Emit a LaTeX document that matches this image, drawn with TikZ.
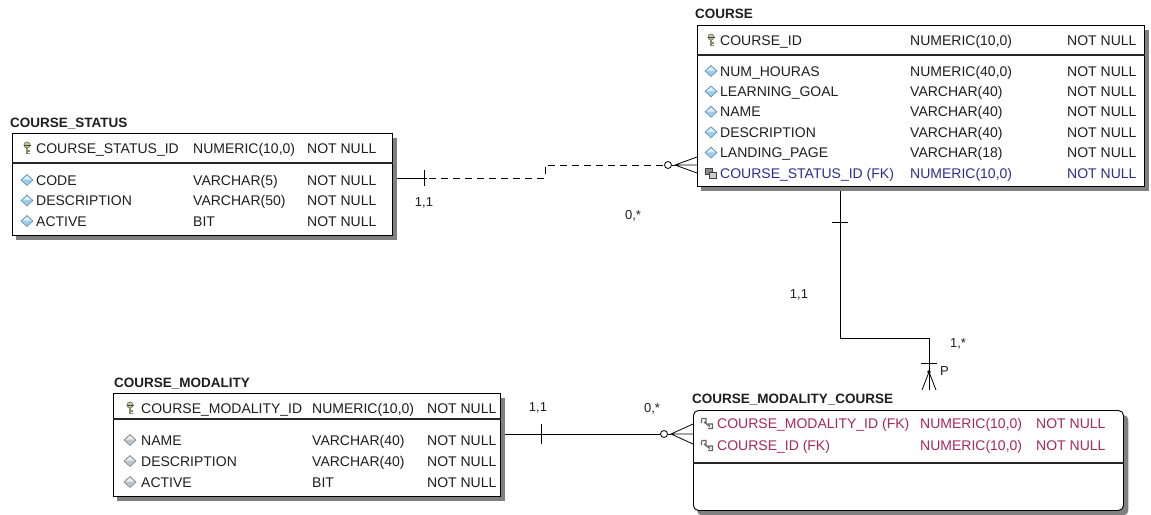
\documentclass[tikz,border=0pt]{standalone}
\usepackage{fontspec}
\setmainfont{Liberation Sans}
\usetikzlibrary{backgrounds}
\definecolor{txtc}{HTML}{1E1E1E}
\definecolor{fkblue}{HTML}{2E2E8F}
\definecolor{fkred}{HTML}{A8285A}
\definecolor{dia}{HTML}{9DCBEA}
\definecolor{diab}{HTML}{4F86B5}
\definecolor{diag}{HTML}{BCC4CC}
\definecolor{diagb}{HTML}{6F7A84}
\definecolor{keyc}{HTML}{8E8A66}
\definecolor{shad}{HTML}{808080}
\begin{document}
\begin{tikzpicture}[x=1pt,y=-1pt,
  tbl/.style={draw=black, line width=0.9pt, fill=white, inner sep=0pt, anchor=north west},
  shd/.style={fill=shad},
  ttl/.style={font=\fontsize{13.5}{15}\selectfont\bfseries, text=txtc, anchor=base west, inner sep=0pt},
  fld/.style={font=\fontsize{14}{16}\selectfont, text=txtc, anchor=base west, inner sep=0pt},
  lbl/.style={font=\fontsize{13}{15}\selectfont, text=txtc, anchor=center, inner sep=0pt},
  rel/.style={line width=0.8pt, draw=black},
  sep/.style={line width=1.1pt, draw=black!85},
  attr/.pic={\filldraw[fill=dia, draw=diab, line width=0.5pt] (0,-5.5)--(6,0)--(0,5.5)--(-6,0)--cycle;
             \fill[white,opacity=0.7] (0,-4.2)--(4.2,-0.3)--(-4.2,-0.3)--cycle;},
  attrg/.pic={\filldraw[fill=diag, draw=diagb, line width=0.5pt] (0,-5.5)--(6,0)--(0,5.5)--(-6,0)--cycle;
             \fill[white,opacity=0.7] (0,-4.2)--(4.2,-0.3)--(-4.2,-0.3)--cycle;},
  pk/.pic={\filldraw[fill=keyc!50, draw=keyc, line width=0.9pt] (0,-3) circle (3);
           \draw[keyc, line width=1.6pt] (0,0) -- (0,6) (0,3) -- (3,3) (0,5.5) -- (3,5.5);
           \draw[keyc!50!black, line width=0.7pt] (-3.5,-3) -- (3.5,-3);},
  fk/.pic={\filldraw[fill=black!45, draw=black!75, line width=0.5pt] (-5.5,-4.5) rectangle (1,1.5);
           \filldraw[fill=black!20, draw=black!75, line width=0.5pt] (-1.5,-0.5) rectangle (5.5,5.5);},
  fkr/.pic={\draw[black!60, line width=1.4pt] (-5.5,-4.5) -- (-1,-4.5) -- (-1,0) (-5.5,0) -- (-5.5,-4.5)
             (1,1) -- (5.5,1) -- (5.5,5.5) -- (1,5.5) (-3,-1) -- (3,3.5);}
]
\useasboundingbox (0,0) rectangle (1151,514);

% ---------------- tables ----------------
\node[tbl, minimum width=380pt, minimum height=102pt] (cs) at (12,133) {};
\node[tbl, minimum width=447pt, minimum height=161pt] (course) at (697,25) {};
\node[tbl, minimum width=387pt, minimum height=103pt] (cm) at (113,393) {};
\node[tbl, rounded corners=5pt, minimum width=430pt, minimum height=100pt] (cmc) at (693,410) {};

\begin{scope}[on background layer]
  \fill[shd] ([xshift=4pt,yshift=-5pt]cs.north west) rectangle ([xshift=4.5pt,yshift=-4.5pt]cs.south east);
  \fill[shd] ([xshift=4pt,yshift=-5pt]course.north west) rectangle ([xshift=4.5pt,yshift=-4.5pt]course.south east);
  \fill[shd] ([xshift=4pt,yshift=-5pt]cm.north west) rectangle ([xshift=4.5pt,yshift=-4.5pt]cm.south east);
  \fill[shd, rounded corners=5pt] ([xshift=4pt,yshift=-5pt]cmc.north west) rectangle ([xshift=4.5pt,yshift=-4.5pt]cmc.south east);
\end{scope}

\draw[sep] (cs.north west |- 0,163) -- (cs.north east |- 0,163);
\draw[sep] (course.north west |- 0,55) -- (course.north east |- 0,55);
\draw[sep] (cm.north west |- 0,419) -- (cm.north east |- 0,419);
\draw[sep] (cmc.north west |- 0,463) -- (cmc.north east |- 0,463);

% ---------------- COURSE_STATUS ----------------
\node[ttl] (cst) at (10,127) {COURSE\_STATUS};
\pic at (27,148) {pk};
\node[fld] (cs1a) at (36,153) {COURSE\_STATUS\_ID};
\node[fld] (cs1b) at (193,153) {NUMERIC(10,0)};
\node[fld] (cs1c) at (307,153) {NOT NULL};
\pic at (27,180) {attr};
\node[fld] (cs2a) at (36,185) {CODE};
\node[fld] (cs2b) at (193,185) {VARCHAR(5)};
\node[fld] (cs2c) at (307,185) {NOT NULL};
\pic at (27,200.5) {attr};
\node[fld] (cs3a) at (36,205.5) {DESCRIPTION};
\node[fld] (cs3b) at (193,205.5) {VARCHAR(50)};
\node[fld] (cs3c) at (307,205.5) {NOT NULL};
\pic at (27,221) {attr};
\node[fld] (cs4a) at (36,226) {ACTIVE};
\node[fld] (cs4b) at (193,226) {BIT};
\node[fld] (cs4c) at (307,226) {NOT NULL};

% ---------------- COURSE ----------------
\node[ttl] (cot) at (695,19) {COURSE};
\pic at (711,40) {pk};
\node[fld] (co1a) at (720,45) {COURSE\_ID};
\node[fld] (co1b) at (910,45) {NUMERIC(10,0)};
\node[fld] (co1c) at (1067,45) {NOT NULL};
\pic at (711,71) {attr};
\node[fld] (co2a) at (720,76) {NUM\_HOURAS};
\node[fld] (co2b) at (910,76) {NUMERIC(40,0)};
\node[fld] (co2c) at (1067,76) {NOT NULL};
\pic at (711,91.4) {attr};
\node[fld] (co3a) at (720,96.4) {LEARNING\_GOAL};
\node[fld] (co3b) at (910,96.4) {VARCHAR(40)};
\node[fld] (co3c) at (1067,96.4) {NOT NULL};
\pic at (711,111.8) {attr};
\node[fld] (co4a) at (720,116.8) {NAME};
\node[fld] (co4b) at (910,116.8) {VARCHAR(40)};
\node[fld] (co4c) at (1067,116.8) {NOT NULL};
\pic at (711,132.2) {attr};
\node[fld] (co5a) at (720,137.2) {DESCRIPTION};
\node[fld] (co5b) at (910,137.2) {VARCHAR(40)};
\node[fld] (co5c) at (1067,137.2) {NOT NULL};
\pic at (711,152.6) {attr};
\node[fld] (co6a) at (720,157.6) {LANDING\_PAGE};
\node[fld] (co6b) at (910,157.6) {VARCHAR(18)};
\node[fld] (co6c) at (1067,157.6) {NOT NULL};
\pic at (711,173) {fk};
\node[fld, text=fkblue] (co7a) at (720,178) {COURSE\_STATUS\_ID (FK)};
\node[fld, text=fkblue] (co7b) at (910,178) {NUMERIC(10,0)};
\node[fld, text=fkblue] (co7c) at (1067,178) {NOT NULL};

% ---------------- COURSE_MODALITY ----------------
\node[ttl] (cmt) at (114,387) {COURSE\_MODALITY};
\pic at (130,408) {pk};
\node[fld] (cm1a) at (141,413) {COURSE\_MODALITY\_ID};
\node[fld] (cm1b) at (312,413) {NUMERIC(10,0)};
\node[fld] (cm1c) at (427,413) {NOT NULL};
\pic at (130,440) {attrg};
\node[fld] (cm2a) at (141,445) {NAME};
\node[fld] (cm2b) at (312,445) {VARCHAR(40)};
\node[fld] (cm2c) at (427,445) {NOT NULL};
\pic at (130,461) {attrg};
\node[fld] (cm3a) at (141,466) {DESCRIPTION};
\node[fld] (cm3b) at (312,466) {VARCHAR(40)};
\node[fld] (cm3c) at (427,466) {NOT NULL};
\pic at (130,482) {attrg};
\node[fld] (cm4a) at (141,487) {ACTIVE};
\node[fld] (cm4b) at (312,487) {BIT};
\node[fld] (cm4c) at (427,487) {NOT NULL};

% ---------------- COURSE_MODALITY_COURSE ----------------
\node[ttl] (cmct) at (692,403) {COURSE\_MODALITY\_COURSE};
\pic at (707,423) {fkr};
\node[fld, text=fkred] (cmc1a) at (717,428) {COURSE\_MODALITY\_ID (FK)};
\node[fld, text=fkred] (cmc1b) at (920,428) {NUMERIC(10,0)};
\node[fld, text=fkred] (cmc1c) at (1036,428) {NOT NULL};
\pic at (707,445) {fkr};
\node[fld, text=fkred] (cmc2a) at (717,450) {COURSE\_ID (FK)};
\node[fld, text=fkred] (cmc2b) at (920,450) {NUMERIC(10,0)};
\node[fld, text=fkred] (cmc2c) at (1036,450) {NOT NULL};

% ---------------- relationship 1: COURSE_STATUS -> COURSE ----------------
\coordinate (r1s) at ([xshift=4.5pt]cs.east |- 0,178);
\coordinate (r1e) at (course.west |- 0,165);
\coordinate (r1m) at (545,0);
\draw[rel] (r1s) -- ([xshift=30pt]r1s);
\draw[rel] ([xshift=27pt,yshift=8pt]r1s) -- ([xshift=27pt,yshift=-8pt]r1s);
\draw[rel, dash pattern=on 7pt off 5pt] ([xshift=32pt]r1s) -- (r1m |- r1s) -- (r1m |- r1e) -- ([xshift=-32.5pt]r1e);
\draw[rel, fill=white] ([xshift=-29pt]r1e) circle (3.5pt);
\draw[rel] ([xshift=-25.5pt]r1e) -- ([xshift=-22pt]r1e);
\draw[rel] ([xshift=-22pt]r1e) -- ([yshift=8pt]r1e)
           ([xshift=-22pt]r1e) -- (r1e)
           ([xshift=-22pt]r1e) -- ([yshift=-8pt]r1e);
\node[lbl] (l1a) at (424,203) {1,1};
\node[lbl] (l1b) at (633,216) {0,*};

% ---------------- relationship 2: COURSE -> COURSE_MODALITY_COURSE ----------------
\coordinate (r2s) at ([xshift=143pt,yshift=-4.5pt]course.south west);
\coordinate (r2e) at ([xshift=236pt,yshift=20pt]cmc.north west);
\draw[rel] (r2s) |- ([yshift=52pt]r2e) -- (r2e);
\draw[rel] ([xshift=-8pt,yshift=-31pt]r2s) -- ([xshift=8pt,yshift=-31pt]r2s);
\draw[rel] ([xshift=-8pt,yshift=27pt]r2e) -- ([xshift=8pt,yshift=27pt]r2e);
\fill ([yshift=18pt]r2e) circle (1.8pt);
\draw[rel] ([yshift=18pt]r2e) -- ([xshift=-7pt]r2e)
           ([yshift=18pt]r2e) -- ([xshift=7pt]r2e);
\node[lbl, anchor=west] (lp) at ([xshift=11pt,yshift=19pt]r2e) {P};
\node[lbl] (l2a) at (799,295) {1,1};
\node[lbl] (l2b) at (958,344) {1,*};

% ---------------- relationship 3: COURSE_MODALITY -> COURSE_MODALITY_COURSE ----------------
\coordinate (r3s) at ([xshift=4.5pt]cm.east |- 0,434);
\coordinate (r3e) at (cmc.west |- 0,434);
\draw[rel] (r3s) -- ([xshift=-32.5pt]r3e);
\draw[rel] ([xshift=36pt,yshift=10pt]r3s) -- ([xshift=36pt,yshift=-10pt]r3s);
\draw[rel, fill=white] ([xshift=-29pt]r3e) circle (3.5pt);
\draw[rel] ([xshift=-25.5pt]r3e) -- ([xshift=-22pt]r3e);
\draw[rel] ([xshift=-22pt]r3e) -- ([yshift=10pt]r3e)
           ([xshift=-22pt]r3e) -- (r3e)
           ([xshift=-22pt]r3e) -- ([yshift=-10pt]r3e);
\node[lbl] (l3a) at (538,408) {1,1};
\node[lbl] (l3b) at (652,409) {0,*};
\end{tikzpicture}
\end{document}
